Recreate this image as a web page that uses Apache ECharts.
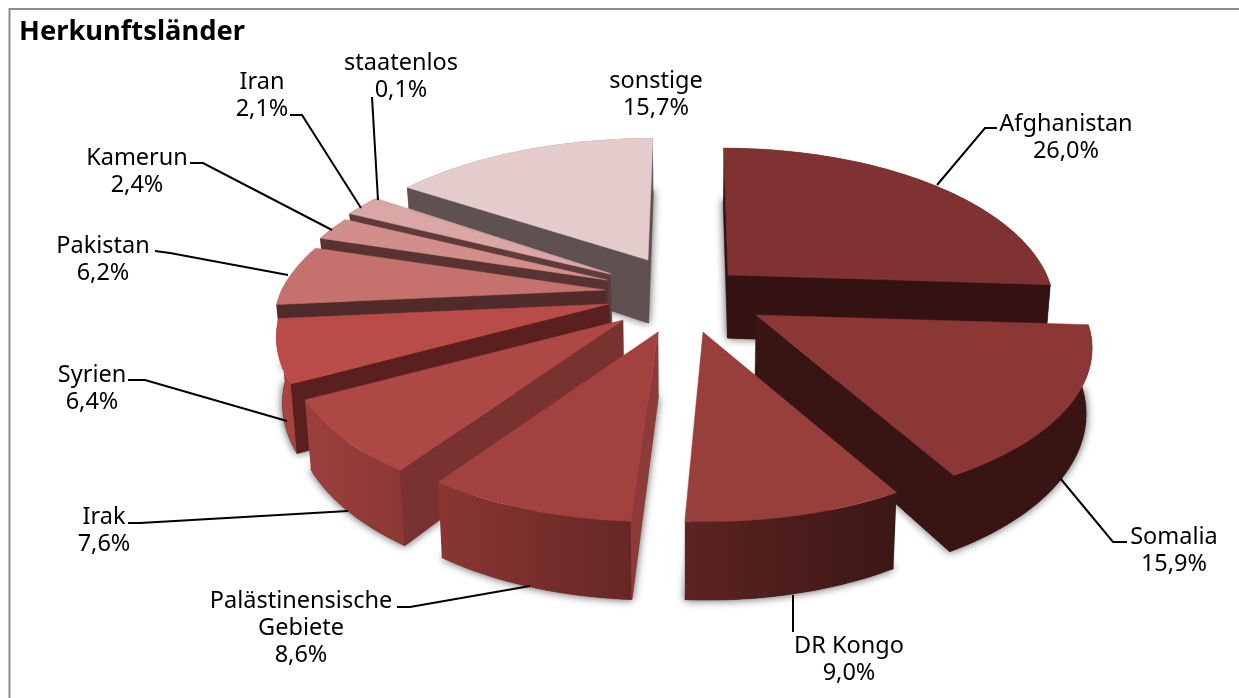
<!DOCTYPE html>
<html><head><meta charset="utf-8">
<style>html,body{margin:0;padding:0;background:#fff}#c{width:1239px;height:698px}</style>
<script src="https://cdn.jsdelivr.net/npm/echarts@6/dist/echarts.min.js"></script>
</head><body><div id="c"></div>
<script>
// ---- data ----
const categories = ["Afghanistan","Somalia","DR Kongo","Palästinensische\nGebiete","Irak","Syrien","Pakistan","Kamerun","Iran","staatenlos","sonstige"];
const shares = [26.0,15.9,9.0,8.6,7.6,6.4,6.2,2.4,2.1,0.1,15.7];
// ---- explosion of each slice, and its radius factors ----
const explode = [[78,-25],[106,15],[53,32],[8,32],[-27,20],[-41,4],[-45,-10],[-43,-20],[-40,-26],[-39,-26],[-2,-40]];
const radiusFactorX = [0.96,0.99,0.97,0.97,0.98,0.98,0.974,0.965,0.96,0.96,0.976];
const radiusFactorY = [1,1,1,1,1,1,1,1,1,1,0.96];
// ---- painter's order, back to front ----
const drawOrder = [10,9,8,7,6,0,5,4,1,3,2];
// ---- colours ----
const topColors = ["#7f3231","#8a3735","#983f3c","#a24240","#ae4845","#b94b48","#c5716d","#d18e8b","#d9a7a5","#dcb5b3","#e4cccd"];
const radialColors = ["#331211","#381413","#3f1a19","#8c3b38","#7a3230","#5a2020","#512a2a","#593332","#5f3b3b","#5f4a4a","#5f5150"];
const arcColors = [["#331211","#331211"],["#381413","#381413"],["#5c2322","#3b1716"],["#8a3633","#652725"],["#9c3f3c","#8a3835"],["#a8443f","#a8443f"],["#a8544f","#a8544f"],["#7a4a48","#7a4a48"],["#7f5553","#7f5553"],["#7f5553","#7f5553"],["#6a5958","#6a5958"]];
// ---- label layout: centre x, first line centre y, leader polyline ----
const labelAnchors = [[1066,123],[1174,536],[849,645],[301,600],[104,516],[92,374],[103,245],[137,157],[262,81],[401,62],[656,80]];
const leaders = [
  [[997,128],[985,128],[937,185]],
  [[1127,542],[1113,542],[1060,478]],
  [[793,632],[793,595]],
  [[397,607],[410,607],[530,586]],
  [[128,523],[140,523],[348,511]],
  [[128,380],[145,380],[287,421]],
  [[155,251],[170,253],[288,275]],
  [[190,163],[203,163],[332,230]],
  [[290,115],[302,115],[361,208]],
  [[372,97],[378,200]],
  null
];
const FONT = '"Noto Sans", sans-serif';
const centre = [650,300], RX = 332, RY = 152, PERSP = 0.198, DEPTH = 63, VANISH = 690, VANISH_FRONT = 680;

const total = shares.reduce((a,b)=>a+b,0);
const startAngles = [];
shares.reduce((acc,v,i)=>{startAngles[i]=acc/total*360;return acc+v;},0);

function project(i,deg,r){
  const a = deg*Math.PI/180, u = Math.sin(a)*r, v = -Math.cos(a)*r;
  const s = 1/(1-PERSP*v);
  const ax = centre[0]+explode[i][0], ay = centre[1]+explode[i][1];
  const shear = s<1 ? (ax-VANISH)*(s-1)*0.7
                    : Math.max(-25,Math.min(25,ax-VANISH_FRONT))*(s-1)*0.8;
  return [ax + u*RX*radiusFactorX[i]*s + shear, ay + v*RY*radiusFactorY[i]*s, s];
}
function lower(p){ return [p[0]-(p[0]-VANISH)*0.015, p[1]+DEPTH*p[2]]; }
function grad(c){ return {type:'linear',x:0,y:0,x2:1,y2:0,colorStops:[{offset:0,color:c[0]},{offset:1,color:c[1]}]}; }

function renderSlice(params,api){
  const i = api.value(1), rank = params.dataIndex, sweep = api.value(0)/total*360, st = startAngles[i], en = st+sweep;
  const n = Math.max(2,Math.ceil(sweep/1.5)), arc = [];
  for(let k=0;k<=n;k++) arc.push(project(i,st+sweep*k/n,1));
  const apex = project(i,0,0), low = arc.map(lower), apexLow = lower(apex);
  const xy = p=>[p[0],p[1]];
  const base = rank*10, ch = [];
  const poly = (pts,fill,z,extra)=>ch.push({type:'polygon',z2:base+z,shape:{points:pts},
    style:Object.assign({fill:fill,stroke:typeof fill==='string'?fill:null,lineWidth:typeof fill==='string'?0.5:0},extra||{})});
  const startVisible = Math.sin(st*Math.PI/180)<0, endVisible = Math.sin(en*Math.PI/180)>0;
  // bottom face carrying the soft shadow
  poly([apexLow].concat(low).map(xy),radialColors[i],0,{shadowBlur:8,shadowColor:'rgba(0,0,0,0.65)'});
  // outer wall
  poly(arc.concat(low.slice().reverse()).map(xy),grad(arcColors[i]),2);
  // radial walls facing the viewer, over the outer wall
  if(startVisible) poly([apex,arc[0],low[0],apexLow].map(xy),radialColors[i],3);
  if(endVisible) poly([apex,arc[n],low[n],apexLow].map(xy),radialColors[i],3);
  // top face
  poly([apex].concat(arc).map(xy),topColors[i],4);
  // leader + label
  if(leaders[i]) ch.push({type:'polyline',z2:900,shape:{points:leaders[i]},style:{fill:null,stroke:'#000',lineWidth:2}});
  const pct = shares[i].toFixed(1).replace('.',',')+'%';
  ch.push({type:'text',z2:901,style:{text:categories[i]+'\n'+pct,x:labelAnchors[i][0],y:labelAnchors[i][1]-12,align:'center',verticalAlign:'top',
    font:'23.5px '+FONT,lineHeight:27,fill:'#000'}});
  return {type:'group',children:ch};
}

const chart = echarts.init(document.getElementById('c'),null,{renderer:'canvas',width:1239,height:698});
chart.setOption({
  animation:false,
  backgroundColor:'#fff',
  title:{text:'Herkunftsländer',left:19,top:19,padding:0,textStyle:{fontFamily:FONT,fontSize:27.3,fontWeight:'bold',color:'#000'}},
  graphic:[{type:'rect',shape:{x:9.5,y:9,width:1400,height:900},style:{fill:null,stroke:'#8c8c8c',lineWidth:2},z:-1}],
  series:[{type:'custom',coordinateSystem:'none',clip:false,renderItem:renderSlice,silent:true,
    data:drawOrder.map(i=>[shares[i],i])}]
});
</script></body></html>
